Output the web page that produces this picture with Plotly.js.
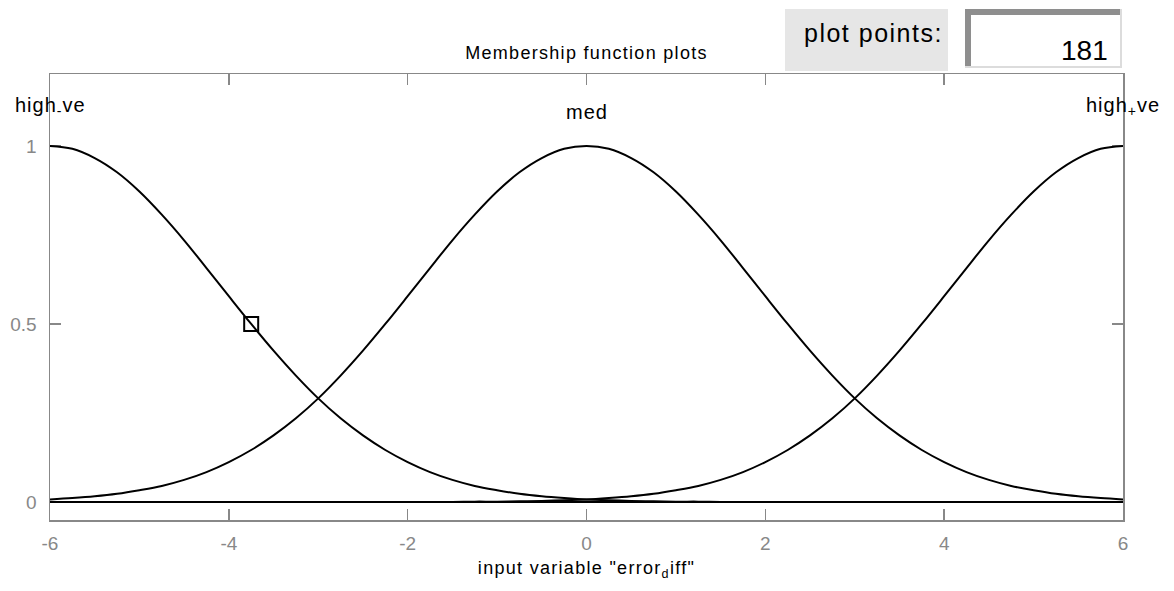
<!DOCTYPE html>
<html>
<head>
<meta charset="utf-8">
<script src="https://cdn.plot.ly/plotly-3.0.1.min.js"></script>
<style>
  html, body { margin: 0; padding: 0; background: #ffffff; }
  #chart { width: 1174px; height: 591px; }
</style>
</head>
<body>
<div id="chart"></div>
<script>
// Input variable "error_diff", sampled every 0.25 over its range
const xValues = [-6, -5.75, -5.5, -5.25, -5, -4.75, -4.5, -4.25, -4, -3.75, -3.5, -3.25,
                 -3, -2.75, -2.5, -2.25, -2, -1.75, -1.5, -1.25, -1, -0.75, -0.5, -0.25,
                 0, 0.25, 0.5, 0.75, 1, 1.25, 1.5, 1.75, 2, 2.25, 2.5, 2.75,
                 3, 3.25, 3.5, 3.75, 4, 4.25, 4.5, 4.75, 5, 5.25, 5.5, 5.75, 6];

// Membership degrees of the three fuzzy sets
const highNeg = [1, 0.992, 0.966, 0.926, 0.872, 0.807, 0.735, 0.657, 0.578, 0.5, 0.425, 0.355,
                 0.291, 0.235, 0.187, 0.146, 0.112, 0.084, 0.062, 0.045, 0.033, 0.023, 0.016, 0.011,
                 0.007, 0.005, 0.003, 0.002, 0.001, 0.001, 0, 0, 0, 0, 0, 0,
                 0, 0, 0, 0, 0, 0, 0, 0, 0, 0, 0, 0, 0];
const med     = [0.007, 0.011, 0.016, 0.023, 0.033, 0.045, 0.062, 0.084, 0.112, 0.146, 0.187, 0.235,
                 0.291, 0.355, 0.425, 0.5, 0.578, 0.657, 0.735, 0.807, 0.872, 0.926, 0.966, 0.992,
                 1, 0.992, 0.966, 0.926, 0.872, 0.807, 0.735, 0.657, 0.578, 0.5, 0.425, 0.355,
                 0.291, 0.235, 0.187, 0.146, 0.112, 0.084, 0.062, 0.045, 0.033, 0.023, 0.016, 0.011, 0.007];
const highPos = [0, 0, 0, 0, 0, 0, 0, 0, 0, 0, 0, 0,
                 0, 0, 0, 0, 0, 0, 0, 0.001, 0.001, 0.002, 0.003, 0.005,
                 0.007, 0.011, 0.016, 0.023, 0.033, 0.045, 0.062, 0.084, 0.112, 0.146, 0.187, 0.235,
                 0.291, 0.355, 0.425, 0.5, 0.578, 0.657, 0.735, 0.807, 0.872, 0.926, 0.966, 0.992, 1];

// Set names and where their labels sit
const mfNames   = ['high<sub>-</sub>ve', 'med', 'high<sub>+</sub>ve'];
const mfCenters = [-6, 0, 6];
const mfLabelY  = [1.11, 1.095, 1.11];

// Selected handle on the highlighted set
const handleX = [-3.75];
const handleY = [0.5];

const xTicks = [-6, -4, -2, 0, 2, 4, 6];
const xTickText = ['-6', '-4', '-2', '0', '2', '4', '6'];
const yTicks = [0, 0.5, 1];
const yTickText = ['0', '0.5', '1'];
const plotPoints = '181';

// Plot-area geometry (pixels) used to place the widgets outside the axes
const W = 1174, H = 591;
const M = { l: 50, r: 51, t: 74, b: 71 };
const PW = W - M.l - M.r, PH = H - M.t - M.b;
const px = v => (v - M.l) / PW;
const py = v => (H - M.b - v) / PH;

const FONT = 'Liberation Sans, Arial, sans-serif';
const GRAY = '#888888';
const spaced = (t, s) => `<span style="letter-spacing:${s}px">${t}</span>`;

const curveLine = { color: '#000000', width: 2, shape: 'spline', smoothing: 1 };
const traces = [
  { x: xValues, y: highNeg, mode: 'lines', line: curveLine, hoverinfo: 'skip' },
  { x: xValues, y: med,     mode: 'lines', line: curveLine, hoverinfo: 'skip' },
  { x: xValues, y: highPos, mode: 'lines', line: curveLine, hoverinfo: 'skip' },
  { x: handleX, y: handleY, mode: 'markers', hoverinfo: 'skip',
    marker: { symbol: 'square-open', size: 14, color: '#000000', line: { width: 2, color: '#000000' } } }
];

const mfAnnotations = mfNames.map((name, i) => ({
  x: mfCenters[i], y: mfLabelY[i], xref: 'x', yref: 'y',
  text: spaced(name, 1), showarrow: false, xanchor: 'center', yanchor: 'middle',
  font: { family: FONT, size: 20, color: '#000000' }
}));

const widgetAnnotations = [
  { x: px(873), y: py(33), xref: 'paper', yref: 'paper', text: spaced('plot points:', 1.5),
    showarrow: false, xanchor: 'center', yanchor: 'middle',
    font: { family: FONT, size: 25, color: '#000000' } },
  { x: px(1110), y: py(51), xref: 'paper', yref: 'paper', text: plotPoints,
    showarrow: false, xanchor: 'right', yanchor: 'middle',
    font: { family: FONT, size: 28, color: '#000000' } }
];

const rect = (x0, y0, x1, y1, fill) => ({
  type: 'rect', xref: 'paper', yref: 'paper', layer: 'above',
  x0: px(x0), x1: px(x1), y0: py(y1), y1: py(y0),
  fillcolor: fill, line: { width: 0 }
});

const shapes = [
  rect(785, 9, 948, 71, '#e6e6e6'),      // label panel
  rect(965, 9, 1122, 68, '#ffffff'),     // edit box
  rect(965, 9, 1122, 15, '#8e8e8e'),     // bevel top
  rect(965, 9, 971, 68, '#8e8e8e'),      // bevel left
  rect(1120, 9, 1122, 68, '#dcdcdc'),    // bevel right
  rect(965, 66, 1122, 68, '#dcdcdc'),    // bevel bottom
  // black baseline at membership 0, drawn over the tick marks
  { type: 'line', xref: 'paper', yref: 'y', layer: 'above',
    x0: 0, x1: 1, y0: yTicks[0], y1: yTicks[0], line: { color: '#000000', width: 2 } }
];

const axisCommon = {
  showline: true, linecolor: GRAY, linewidth: 1.5, mirror: 'ticks',
  ticks: 'inside', ticklen: 11, tickwidth: 1.5, tickcolor: GRAY,
  showgrid: false, fixedrange: true, zeroline: false, layer: 'below traces',
  tickfont: { family: FONT, size: 19, color: GRAY }
};

const layout = {
  width: W, height: H,
  margin: M,
  paper_bgcolor: '#ffffff', plot_bgcolor: '#ffffff',
  showlegend: false,
  title: {
    text: spaced('Membership function plots', 1.3),
    font: { family: FONT, size: 18, color: '#000000' },
    xref: 'paper', x: 0.5, xanchor: 'center',
    yref: 'container', y: 1 - 53 / H, yanchor: 'middle'
  },
  xaxis: Object.assign({}, axisCommon, {
    range: [-6, 6], tickvals: xTicks, ticktext: xTickText,
    ticklabelstandoff: 6,
    title: {
      text: spaced('input variable "error<sub>d</sub>iff"', 1.3),
      font: { family: FONT, size: 18, color: '#000000' },
      standoff: 8
    }
  }),
  yaxis: Object.assign({}, axisCommon, {
    range: [-0.0506, 1.202], tickvals: yTicks, ticktext: yTickText,
    ticklabelstandoff: 8
  }),
  annotations: mfAnnotations.concat(widgetAnnotations),
  shapes: shapes
};

Plotly.newPlot('chart', traces, layout, { staticPlot: true, displayModeBar: false });
</script>
</body>
</html>
